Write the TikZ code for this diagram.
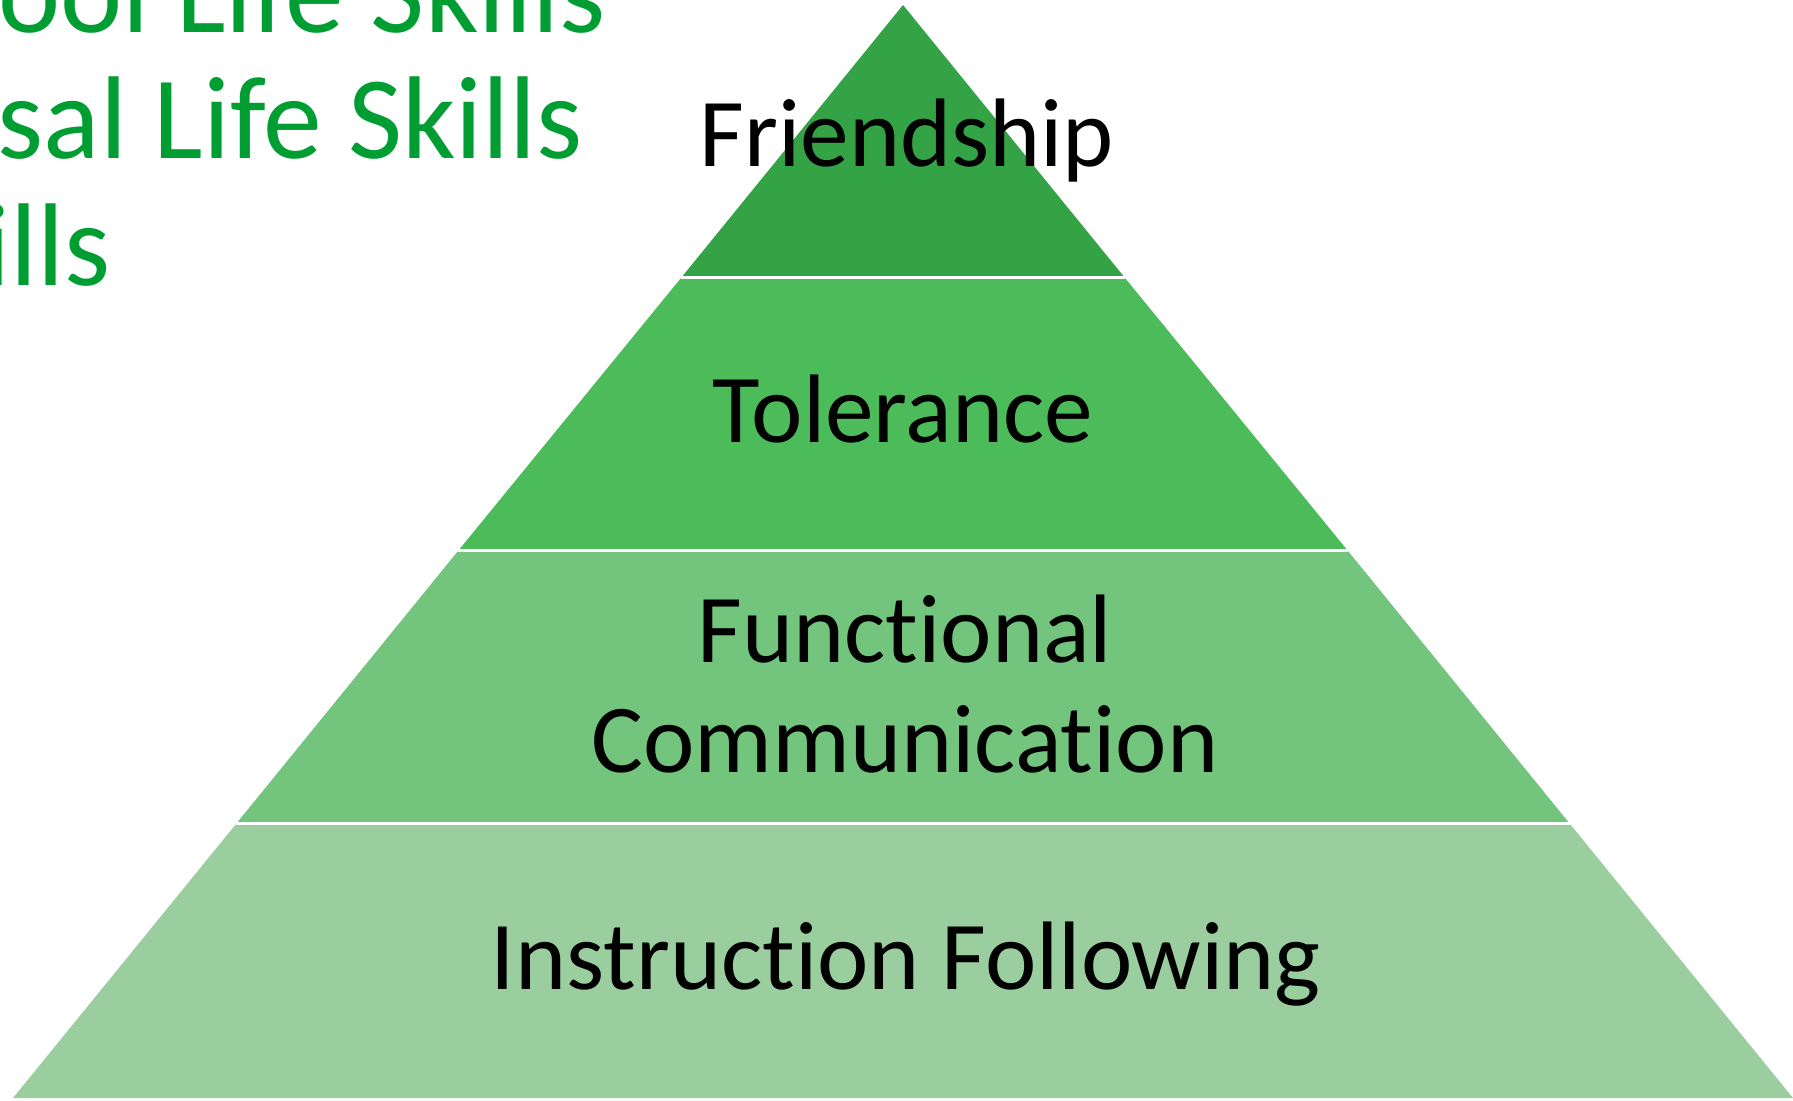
\documentclass[tikz,border=0pt]{standalone}
\usepackage{fontspec}
\setmainfont{Carlito}[Ligatures=NoCommon]
\usetikzlibrary{positioning}

\definecolor{tiergreenA}{RGB}{51,163,70}
\definecolor{tiergreenB}{RGB}{75,188,89}
\definecolor{tiergreenC}{RGB}{115,196,124}
\definecolor{tiergreenD}{RGB}{154,206,159}
\definecolor{titlegreen}{RGB}{0,158,50}

\begin{document}
\begin{tikzpicture}[
    tierlabel/.style={anchor=base,inner sep=0pt,font=\fontsize{27.7}{31}\selectfont},
    sidetitle/.style={anchor=base west,inner sep=0pt,text=titlegreen,font=\fontsize{33.5}{37}\selectfont},
    tiergap/.style={draw=white,line width=0.03cm}
]
    \useasboundingbox (0,0) rectangle (17.93,11);
    \clip (0,0) rectangle (17.93,11);

    % pyramid corners
    \coordinate (apex) at (9.03,10.95);
    \coordinate (l1) at (6.81,8.22);   \coordinate (r1) at (11.25,8.22);
    \coordinate (l2) at (4.58,5.49);   \coordinate (r2) at (13.48,5.49);
    \coordinate (l3) at (2.36,2.76);   \coordinate (r3) at (15.70,2.76);
    \coordinate (l4) at (0.13,0.02);   \coordinate (r4) at (17.93,0.02);

    % tiers
    \fill[tiergreenD] (l3) -- (r3) -- (r4) -- (l4) -- cycle;
    \fill[tiergreenC] (l2) -- (r2) -- (r3) -- (l3) -- cycle;
    \fill[tiergreenB] (l1) -- (r1) -- (r2) -- (l2) -- cycle;
    \fill[tiergreenA] (apex) -- (r1) -- (l1) -- cycle;

    % white gaps between the tiers
    \draw[tiergap] (l1) -- (r1);
    \draw[tiergap] (l2) -- (r2);
    \draw[tiergap] (l3) -- (r3);

    % tier labels
    \node[tierlabel] (friendship) at (9.07,9.33) {Friendship};
    \node[tierlabel] (tolerance) at (9.03,6.57) {Tolerance};
    \node[tierlabel] (functional) at (9.05,4.37) {Functional};
    \node[tierlabel] (communication) at (9.05,3.27) {Communication};
    \node[tierlabel] (instruction) at (9.06,1.10) {Instruction Following};

    % green list, cut off at the left
    \node[sidetitle] (schoolskills) at (-0.02,10.67) {ool Life Skills};
    \node[sidetitle] (universalskills) at (-0.03,9.41) {sal Life Skills};
    \node[sidetitle] (otherskills) at (-0.17,8.14) {ills};
\end{tikzpicture}
\end{document}
